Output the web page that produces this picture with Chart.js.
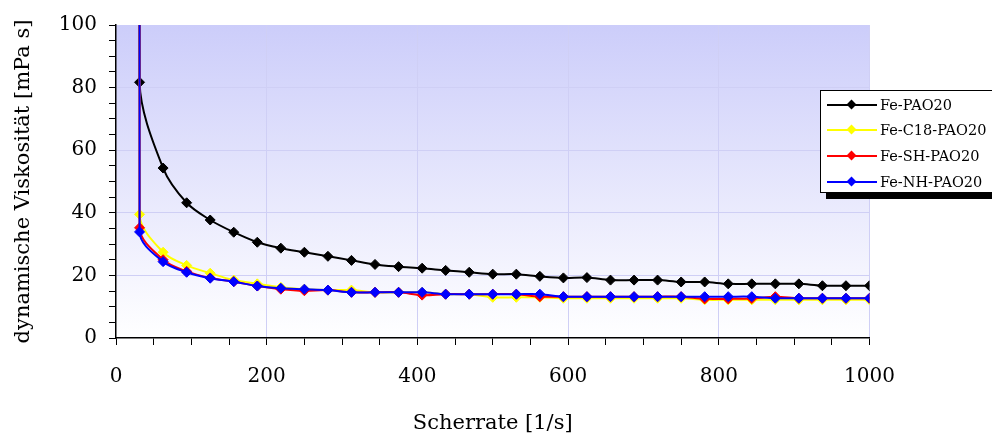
<!DOCTYPE html>
<html>
<head>
<meta charset="utf-8">
<script src="https://cdn.jsdelivr.net/npm/chart.js@4/dist/chart.umd.min.js"></script>
<style>
  html, body { margin: 0; padding: 0; background: #fff; overflow: hidden; }
  #wrap { position: relative; width: 992px; height: 436px; }
  #legend {
    position: absolute; left: 820px; top: 90px; width: 180px; height: 103px;
    box-sizing: border-box; border: 1px solid #000; background: #fff;
    box-shadow: 6px 6px 0 #000; padding-top: 1px;
    font-family: "DejaVu Serif", serif; font-size: 14.5px; color: #000;
  }
  .legend-row { display: flex; align-items: center; height: 25.6px; }
  .legend-swatch { position: relative; width: 50px; height: 2px; margin-left: 6px; }
  .legend-swatch span {
    position: absolute; left: 21px; top: -3px; width: 7px; height: 7px; transform: rotate(45deg);
  }
  .legend-label { margin-left: 3px; white-space: nowrap; }
</style>
</head>
<body>
<div id="wrap">
  <canvas id="chart" width="992" height="436"></canvas>
  <div id="legend"></div>
</div>
<script>
// Scherrate [1/s]; the first entry repeats the first rate for the off-scale start value
const shearRate = [31.25, 31.25, 62.5, 93.75, 125, 156.25, 187.5, 218.75, 250, 281.25, 312.5,
  343.75, 375, 406.25, 437.5, 468.75, 500, 531.25, 562.5, 593.75, 625, 656.25, 687.5,
  718.75, 750, 781.25, 812.5, 843.75, 875, 906.25, 937.5, 968.75, 1000];

const labels = ["Fe-PAO20", "Fe-C18-PAO20", "Fe-SH-PAO20", "Fe-NH-PAO20"];
const colors = ["#000000", "#ffff00", "#ff0000", "#0000ff"];

// dynamische Viskosität [mPa s]
const fePao = [300, 81.7, 54.3, 43.2, 37.7, 33.8, 30.6, 28.7, 27.4, 26.1, 24.8, 23.5, 22.8,
  22.3, 21.6, 21.0, 20.4, 20.4, 19.7, 19.2, 19.3, 18.5, 18.5, 18.5, 17.9, 17.9, 17.3, 17.3,
  17.3, 17.3, 16.7, 16.7, 16.7];
const feC18 = [300, 39.5, 27.4, 23.2, 20.7, 18.5, 17.3, 16.2, 15.6, 15.3, 15.3, 14.6, 14.6,
  14.6, 14.0, 14.0, 13.0, 13.0, 13.0, 12.7, 12.7, 12.7, 12.7, 12.7, 12.7, 12.2, 12.2, 12.2,
  12.2, 12.2, 12.2, 12.2, 12.2];
const feSh = [300, 35.2, 25.0, 21.3, 19.2, 18.0, 16.6, 15.6, 15.1, 15.3, 14.6, 14.6, 14.6,
  13.7, 14.0, 14.0, 14.0, 14.0, 13.2, 13.2, 13.2, 13.2, 13.2, 13.2, 13.2, 12.5, 12.5, 12.6,
  13.2, 12.7, 12.7, 12.7, 12.7];
const feNh = [300, 33.9, 24.4, 21.0, 19.1, 18.0, 16.6, 15.9, 15.6, 15.3, 14.6, 14.6, 14.6,
  14.6, 14.0, 14.0, 14.0, 14.0, 14.0, 13.2, 13.2, 13.2, 13.2, 13.2, 13.2, 13.2, 13.2, 13.2,
  12.7, 12.7, 12.7, 12.7, 12.7];

const series = [fePao, feC18, feSh, feNh];

const plotBackground = {
  id: "plotBackground",
  beforeDraw(chart) {
    const { ctx, chartArea: a } = chart;
    const g = ctx.createLinearGradient(0, a.top, 0, a.bottom);
    g.addColorStop(0, "#cccdfa");
    g.addColorStop(1, "#ffffff");
    ctx.save();
    ctx.fillStyle = g;
    ctx.fillRect(a.left, a.top, a.right - a.left, a.bottom - a.top);
    ctx.restore();
  },
};

// keep the first (off-scale -> first reading) segment a straight vertical line
const straightStart = {
  id: "straightStart",
  afterDatasetsUpdate(chart) {
    chart.getSortedVisibleDatasetMetas().forEach((meta) => {
      meta.dataset.updateControlPoints(chart.chartArea, "x");
      const [p0, p1] = meta.data;
      if (!p0 || !p1) return;
      p0.cp2x = p0.x;
      p1.cp1x = p1.x;
    });
  },
};

const serif = "'DejaVu Serif', serif";

new Chart(document.getElementById("chart"), {
  type: "line",
  data: {
    datasets: series.map((values, i) => ({
      label: labels[i],
      data: values.map((v, j) => ({ x: shearRate[j], y: v })),
      borderColor: colors[i],
      backgroundColor: colors[i],
      borderWidth: 2,
      tension: 0.33,
      pointStyle: "rectRot",
      pointRadius: 5,
      pointBorderWidth: 1,
      order: 4 - i,
    })),
  },
  options: {
    responsive: false,
    animation: false,
    events: [],
    elements: { line: { capBezierPoints: false } },
    layout: { padding: { top: 25, right: 122.5, left: 0, bottom: 0 } },
    plugins: { legend: { display: false }, tooltip: { enabled: false } },
    scales: {
      x: {
        type: "linear",
        min: 0,
        max: 1000,
        afterFit: (s) => { s.height = 98; },
        ticks: {
          stepSize: 50,
          autoSkip: false,
          maxRotation: 0,
          padding: 20,
          color: "#000",
          font: { family: serif, size: 20 },
          callback: (v) => (v % 200 === 0 ? v : ""),
        },
        grid: {
          color: (c) => (c.tick && c.tick.value % 200 === 0 && c.tick.value > 0 ? "#cfcff5" : "rgba(0,0,0,0)"),
          tickColor: "#000",
          tickLength: 7,
        },
        border: { color: "#000", width: 1.5 },
        title: {
          display: true,
          text: "Scherrate [1/s]",
          color: "#000",
          font: { family: serif, size: 21 },
          padding: { top: 0, bottom: 0 },
        },
      },
      y: {
        min: 0,
        max: 100,
        afterFit: (s) => { s.width = 116; },
        ticks: {
          stepSize: 5,
          autoSkip: false,
          padding: 12,
          color: "#000",
          font: { family: serif, size: 20 },
          callback: (v) => (v % 20 === 0 ? v : ""),
        },
        grid: {
          color: (c) => (c.tick && c.tick.value % 20 === 0 && c.tick.value > 0 && c.tick.value < 100 ? "#cfcff5" : "rgba(0,0,0,0)"),
          tickColor: "#000",
          tickLength: 7,
        },
        border: { color: "#000", width: 1.5 },
        title: {
          display: true,
          text: "dynamische Viskosität [mPa s]",
          color: "#000",
          font: { family: serif, size: 21 },
          padding: { top: 11, bottom: 0 },
        },
      },
    },
  },
  plugins: [plotBackground, straightStart],
});

document.getElementById("legend").innerHTML = labels
  .map(
    (label, i) => `
    <div class="legend-row">
      <div class="legend-swatch" style="background:${colors[i]}"><span style="background:${colors[i]}"></span></div>
      <div class="legend-label">${label}</div>
    </div>`
  )
  .join("");
</script>
</body>
</html>
